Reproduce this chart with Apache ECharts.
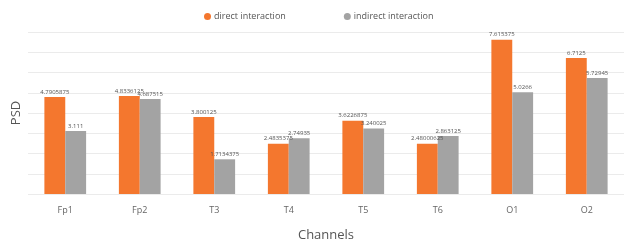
<!DOCTYPE html>
<html lang="en">
<head>
    <meta charset="UTF-8">
    <title>PSD by channel</title>
    <script src="https://cdn.jsdelivr.net/npm/echarts@6/dist/echarts.min.js"></script>
    <style>
        html, body { margin: 0; padding: 0; background: #fff; }
        #chart { width: 630px; height: 247px; }
    </style>
</head>
<body>
    <div id="chart"></div>
    <script>
        // data
        const channels = ['Fp1', 'Fp2', 'T3', 'T4', 'T5', 'T6', 'O1', 'O2'];
        const direct = [4.7905875, 4.8336125, 3.800125, 2.4835375, 3.6226875, 2.48000625, 7.615375, 6.7125];
        const indirect = [3.111, 4.687515, 1.7134375, 2.74935, 3.240025, 2.863125, 5.0266, 5.72945];
        const seriesNames = ['direct interaction', 'indirect interaction'];

        const myChart = echarts.init(document.getElementById('chart'));

        const labelStyle = {
            show: true,
            position: 'top',
            distance: 2,
            fontSize: 6,
            color: '#555',
            fontFamily: 'Open Sans'
        };

        const option = {
            animation: false,
            textStyle: { fontFamily: 'Open Sans' },
            legend: {
                top: 7,
                left: 199,
                itemGap: 58,
                itemWidth: 7,
                itemHeight: 7,
                icon: 'circle',
                textStyle: { fontSize: 9, color: '#555', padding: [0, 0, 0, -2] },
                data: seriesNames
            },
            grid: {
                left: 28,
                right: 6,
                top: 32,
                bottom: 46
            },
            xAxis: {
                type: 'category',
                data: channels,
                name: 'Channels',
                nameLocation: 'middle',
                nameGap: 35,
                nameTextStyle: { fontSize: 13, color: '#555' },
                axisLine: { show: false },
                axisTick: { show: false },
                axisLabel: { fontSize: 9, color: '#666', margin: 12 }
            },
            yAxis: {
                type: 'value',
                min: 0,
                max: 8,
                interval: 1,
                name: 'PSD',
                nameLocation: 'middle',
                nameGap: 5,
                nameTextStyle: { fontSize: 13, color: '#555' },
                axisLabel: { show: false },
                axisLine: { show: false },
                axisTick: { show: false },
                splitLine: { lineStyle: { color: '#ebebeb', width: 1 } }
            },
            series: [{
                name: seriesNames[0],
                type: 'bar',
                data: direct,
                barGap: '0%',
                barCategoryGap: '44%',
                itemStyle: { color: '#f4772e' },
                label: labelStyle
            }, {
                name: seriesNames[1],
                type: 'bar',
                data: indirect,
                itemStyle: { color: '#a3a3a3' },
                label: labelStyle
            }]
        };

        myChart.setOption(option);
    </script>
</body>
</html>
